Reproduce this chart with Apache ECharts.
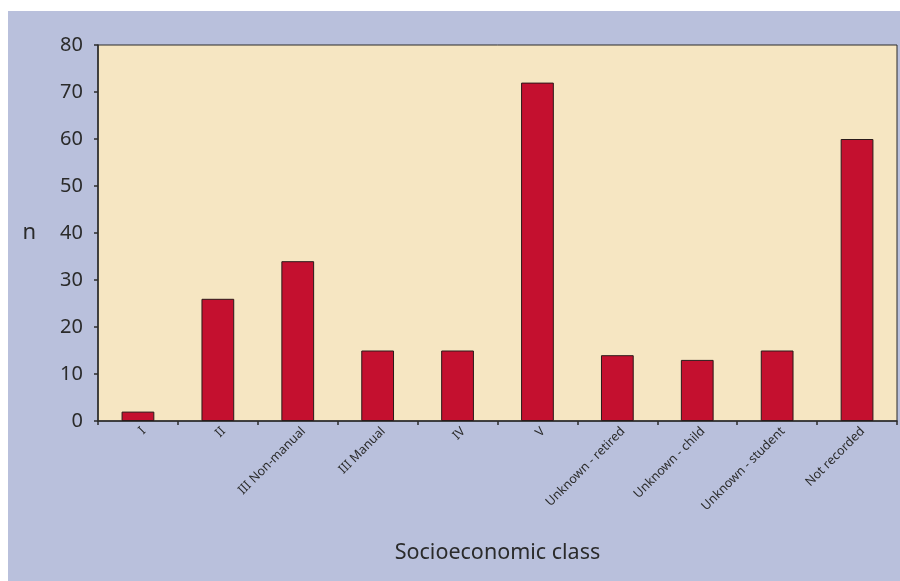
<!DOCTYPE html>
<html>
<head>
<meta charset="utf-8">
<script src="https://cdn.jsdelivr.net/npm/echarts@6/dist/echarts.min.js"></script>
<style>
  html, body { margin: 0; padding: 0; background: #ffffff; }
  #chart { width: 900px; height: 581px; }
</style>
</head>
<body>
<div id="chart"></div>
<script>
// Socioeconomic class categories and counts
const categories = [
  'I', 'II', 'III Non-manual', 'III Manual', 'IV', 'V',
  'Unknown - retired', 'Unknown - child', 'Unknown - student', 'Not recorded'
];
const counts = [2, 26, 34, 15, 15, 72, 14, 13, 15, 60];
const yTicks = { min: 0, max: 80, interval: 10 };

const FONT = '"Noto Sans", "Open Sans", sans-serif';
const TEXT = '#2b2b2b';

const chart = echarts.init(document.getElementById('chart'), null, { renderer: 'canvas' });

chart.setOption({
  backgroundColor: '#ffffff',
  animation: false,
  graphic: [
    {
      type: 'rect',
      z: -10,
      silent: true,
      shape: { x: 8, y: 11, width: 892, height: 570 },
      style: { fill: '#b9c0dc' }
    }
  ],
  grid: {
    left: 98,
    top: 45,
    right: 3,
    bottom: 160,
    show: true,
    backgroundColor: '#f6e6c2',
    borderColor: '#2b2b2b',
    borderWidth: 1
  },
  xAxis: {
    type: 'category',
    data: categories,
    boundaryGap: true,
    name: 'Socioeconomic class',
    nameLocation: 'middle',
    nameGap: 121,
    nameTextStyle: { fontFamily: FONT, fontSize: 21.5, color: TEXT },
    axisLine: { show: true, lineStyle: { color: '#2b2b2b', width: 1.5 } },
    axisTick: { show: true, length: 4, alignWithLabel: false, lineStyle: { color: '#2b2b2b', width: 1.5 } },
    axisLabel: {
      interval: 0,
      rotate: 45,
      margin: 14,
      padding: [0, -8, 0, 0],
      fontFamily: FONT,
      fontSize: 12.5,
      color: TEXT
    },
    splitLine: { show: false }
  },
  yAxis: {
    type: 'value',
    min: yTicks.min,
    max: yTicks.max,
    interval: yTicks.interval,
    name: 'n',
    nameLocation: 'middle',
    nameRotate: 0,
    nameGap: 62,
    nameTextStyle: { fontFamily: FONT, fontSize: 22, color: TEXT },
    axisLine: { show: true, lineStyle: { color: '#2b2b2b', width: 1.5 } },
    axisTick: { show: true, length: 4, lineStyle: { color: '#2b2b2b', width: 1.5 } },
    axisLabel: {
      margin: 15,
      fontFamily: FONT,
      fontSize: 20,
      color: TEXT
    },
    splitLine: { show: false }
  },
  series: [
    {
      type: 'bar',
      data: counts,
      barWidth: '41%',
      itemStyle: {
        color: '#c4102f',
        borderColor: '#2a1a1a',
        borderWidth: 1
      }
    }
  ]
});
</script>
</body>
</html>
